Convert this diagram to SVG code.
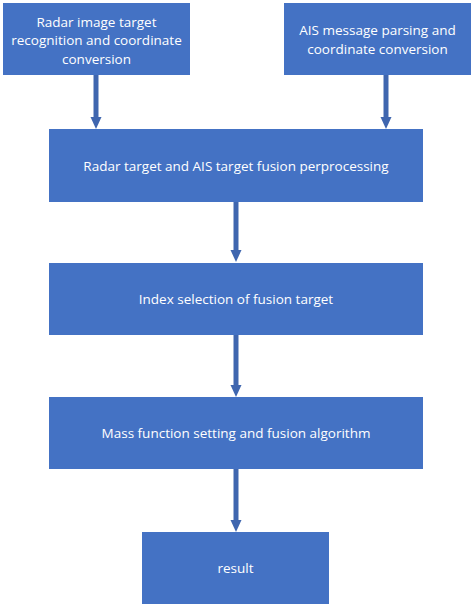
<svg xmlns="http://www.w3.org/2000/svg" width="474" height="607" viewBox="0 0 474 607">
<defs>
<style>
.box{fill:#4472C4;}
.t{fill:#ffffff;font-family:"Open Sans","Liberation Sans",sans-serif;font-size:13.5px;text-anchor:middle;}
.c{stroke:#3F66AF;stroke-width:5;fill:none;}
.h{fill:#3F66AF;}
</style>
</defs>
<rect width="474" height="607" fill="#ffffff"/>
<g id="connectors">
<line class="c" x1="96" y1="75" x2="96" y2="118"/><polygon class="h" points="90.5,117 101.5,117 96,129"/>
<line class="c" x1="386" y1="75" x2="386" y2="118"/><polygon class="h" points="380.5,117 391.5,117 386,129"/>
<line class="c" x1="236" y1="202" x2="236" y2="251"/><polygon class="h" points="230.5,250 241.5,250 236,262"/>
<line class="c" x1="236" y1="335" x2="236" y2="386"/><polygon class="h" points="230.5,385 241.5,385 236,397"/>
<line class="c" x1="236" y1="469" x2="236" y2="521"/><polygon class="h" points="230.5,520 241.5,520 236,532"/>
</g>
<g id="n1"><rect class="box" x="3" y="3" width="187" height="72"/>
<text class="t" x="96.5" y="26.5">Radar image target</text>
<text class="t" x="96.5" y="45">recognition and coordinate</text>
<text class="t" x="96.5" y="63.5">conversion</text></g>
<g id="n2"><rect class="box" x="284" y="3" width="187" height="72"/>
<text class="t" x="377.5" y="35">AIS message parsing and</text>
<text class="t" x="377.5" y="54">coordinate conversion</text></g>
<g id="n3"><rect class="box" x="49" y="129" width="374" height="73"/>
<text class="t" x="236" y="170.5">Radar target and AIS target fusion perprocessing</text></g>
<g id="n4"><rect class="box" x="49" y="263" width="374" height="72"/>
<text class="t" x="236" y="304">Index selection of fusion target</text></g>
<g id="n5"><rect class="box" x="49" y="397" width="374" height="72"/>
<text class="t" x="236" y="438">Mass function setting and fusion algorithm</text></g>
<g id="n6"><rect class="box" x="142" y="532" width="187" height="72"/>
<text class="t" x="235.5" y="573">result</text></g>
</svg>
